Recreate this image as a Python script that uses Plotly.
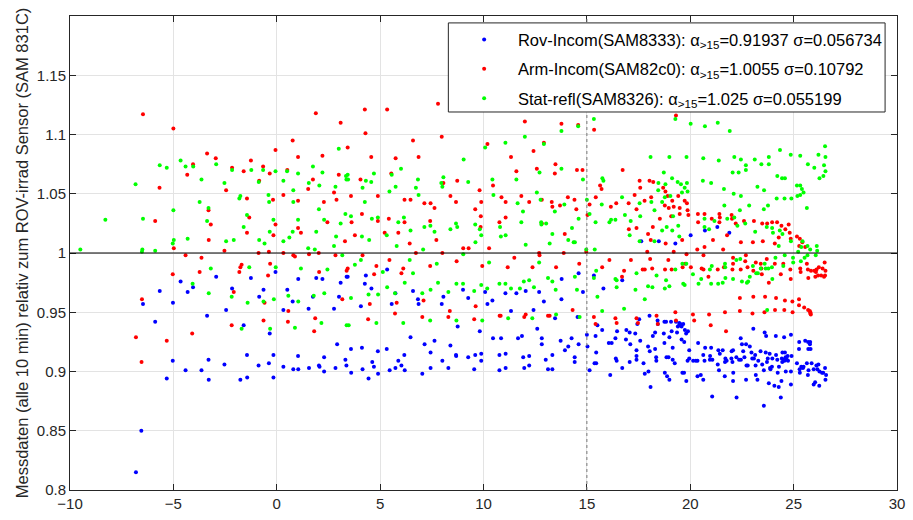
import plotly.graph_objects as go

# ---- data (x, ratio) ----
rov_pts = [
    (-6.81, 0.815), (-6.55, 0.850), (-6.47, 0.957), (-5.88, 0.942), (-5.66, 0.968), (-5.32, 0.894),
    (-5.03, 0.909), (-5.02, 0.958), (-4.65, 0.976), (-4.31, 0.967), (-4.05, 0.971), (-4.41, 0.901),
    (-3.64, 0.901), (-3.37, 0.947), (-3.30, 0.910), (-3.29, 0.893), (-2.93, 0.980), (-2.53, 0.906),
    (-2.45, 0.952), (-2.16, 0.970), (-1.76, 0.893), (-1.60, 0.939), (-1.44, 0.914), (-1.43, 0.895),
    (-1.25, 0.979), (-0.88, 0.905), (-0.85, 0.963), (-0.64, 0.969), (-0.38, 0.907), (-0.34, 0.932),
    (-0.16, 0.914), (-0.16, 0.895), (-0.06, 0.984), (0.32, 0.904), (0.32, 0.952), (0.51, 0.969),
    (0.77, 0.959), (0.80, 0.902), (1.03, 0.913), (1.04, 0.902), (1.04, 0.978), (1.54, 0.953),
    (1.56, 0.903), (1.75, 0.963), (1.91, 0.979), (2.04, 0.905), (2.07, 0.904), (2.21, 0.978),
    (2.29, 0.912), (2.29, 0.900), (2.77, 0.953), (2.84, 0.903), (2.92, 0.923), (3.01, 0.963),
    (3.09, 0.975), (3.32, 0.910), (3.37, 0.905), (3.38, 0.980),
    (3.43, 0.980), (3.59, 0.919), (3.60, 0.899), (4.07, 0.955), (4.12, 0.920), (4.15, 0.902),
    (4.26, 0.974), (4.31, 0.981), (4.58, 0.970), (4.62, 0.908), (4.70, 0.904), (4.44, 0.894),
    (4.89, 0.917), (4.90, 0.898), (5.34, 0.986), (5.32, 0.919), (5.46, 0.901), (5.56, 0.957),
    (5.74, 0.966), (5.74, 0.903), (5.88, 0.909), (6.03, 0.905), (6.17, 0.914), (6.19, 0.901),
    (6.47, 0.929), (6.59, 0.968), (6.83, 0.961), (6.86, 0.957), (7.04, 0.898), (7.15, 0.923),
    (7.44, 0.916), (7.44, 0.903), (7.63, 0.926), (7.98, 0.957), (8.01, 0.909), (8.06, 0.963),
    (8.30, 0.903), (8.40, 0.922), (8.67, 0.914), (8.68, 0.913), (8.75, 0.938), (9.01, 0.969),
    (9.26, 0.962), (9.26, 0.912), (9.55, 0.902), (9.60, 0.914), (9.82, 0.934), (9.89, 0.915),
    (9.89, 0.909), (10.08, 0.967), (10.19, 0.957), (10.43, 0.960), (10.46, 0.928), (10.77, 0.914),
    (10.77, 0.901), (10.85, 0.928), (11.06, 0.966), (11.07, 0.915), (11.07, 0.903), (11.33, 0.951),
    (11.59, 0.966), (11.67, 0.928), (11.86, 0.930), (11.92, 0.912), (11.97, 0.903), (12.04, 0.968),
    (12.21, 0.913), (12.21, 0.905), (12.42, 0.952), (12.60, 0.936), (12.69, 0.967), (12.82, 0.928),
    (12.82, 0.923), (12.92, 0.959), (13.01, 0.910), (13.12, 0.902), (13.33, 0.902), (13.33, 0.914),
    (13.46, 0.945), (13.73, 0.926), (13.77, 0.961), (13.78, 0.978), (13.94, 0.918), (14.10, 0.921),
    (14.26, 0.928), (14.41, 0.912), (14.41, 0.908), (14.60, 0.983), (14.55, 0.946), (14.60, 0.923),
    (14.81, 0.967), (15.00, 0.931), (15.03, 0.921), (15.13, 0.901), (15.34, 0.981), (15.37, 0.907),
    (15.45, 0.907), (15.42, 0.930), (15.45, 0.916), (15.51, 0.939), (15.74, 0.935), (15.80, 0.970),
    (16.06, 0.924), (16.20, 0.924), (16.13, 0.897), (16.38, 0.928), (16.40, 0.911), (16.44, 0.909),
    (16.46, 0.934), (16.71, 0.977), (16.71, 0.903), (16.89, 0.927),
    (16.91, 0.935), (17.07, 0.933), (17.10, 0.923), (17.07, 0.908), (17.40, 0.918), (17.40, 0.913),
    (17.40, 0.910), (17.34, 0.932), (17.53, 0.944), (17.44, 0.940), (17.58, 0.926), (17.74, 0.907),
    (17.80, 0.898), (17.98, 0.900), (17.96, 0.921), (18.03, 0.947), (18.04, 0.917), (18.08, 0.887),
    (18.19, 0.930), (18.30, 0.933), (18.30, 0.919), (18.42, 0.943), (18.43, 0.940), (18.35, 0.912),
    (18.36, 0.909), (18.75, 0.942), (18.83, 0.942), (18.72, 0.932), (18.75, 0.924), (18.77, 0.899),
    (18.85, 0.912), (18.95, 0.912), (18.88, 0.896), (18.99, 0.929), (18.99, 0.893), (19.07, 0.942),
    (19.10, 0.934), (19.15, 0.920), (19.15, 0.910), (19.25, 0.907), (19.31, 0.942), (19.36, 0.933),
    (19.40, 0.938), (19.47, 0.939), (19.58, 0.938), (19.66, 0.940), (19.52, 0.940), (19.47, 0.941),
    (19.58, 0.927), (19.62, 0.899), (19.70, 0.899), (19.71, 0.925), (19.74, 0.935), (19.80, 0.932),
    (19.89, 0.934), (19.87, 0.909), (19.81, 0.892), (19.95, 0.918), (19.95, 0.911), (20.14, 0.909),
    (20.27, 0.909), (20.35, 0.909), (20.38, 0.924), (20.35, 0.896), (20.51, 0.897), (20.63, 0.893),
    (20.63, 0.914), (20.69, 0.909), (20.72, 0.920), (20.95, 0.910), (20.96, 0.913), (21.01, 0.920),
    (21.07, 0.910), (21.06, 0.879), (21.36, 0.918), (21.57, 0.918), (21.33, 0.906), (21.39, 0.901),
    (21.43, 0.915), (21.67, 0.896), (21.70, 0.911), (21.68, 0.908), (21.76, 0.909), (22.00, 0.917),
    (22.07, 0.918), (21.99, 0.911), (22.04, 0.908), (22.08, 0.899), (22.07, 0.892), (22.24, 0.878),
    (22.23, 0.912), (22.36, 0.910), (22.45, 0.910), (22.44, 0.928), (22.50, 0.923), (22.56, 0.917),
    (22.62, 0.912), (22.70, 0.923), (22.72, 0.905), (22.78, 0.905), (22.70, 0.893), (22.88, 0.921),
    (23.05, 0.936), (23.00, 0.911), (23.08, 0.911), (22.96, 0.916), (23.14, 0.914), (23.17, 0.897),
    (23.25, 0.893), (23.16, 0.905), (23.29, 0.909), (23.40, 0.917), (23.48, 0.906), (23.56, 0.901),
    (23.56, 0.871), (23.60, 0.933), (23.65, 0.916), (23.67, 0.930), (23.71, 0.908), (23.75, 0.911),
    (23.80, 0.890), (23.84, 0.915), (23.88, 0.902), (23.95, 0.904), (23.86, 0.903), (23.97, 0.911),
    (24.07, 0.888), (24.14, 0.930), (24.15, 0.914), (24.21, 0.910), (24.23, 0.899), (24.29, 0.904),
    (24.28, 0.887), (24.38, 0.878), (24.41, 0.892), (24.43, 0.911), (24.52, 0.910), (24.45, 0.908),
    (24.56, 0.909), (24.61, 0.912), (24.67, 0.910), (24.71, 0.913), (24.73, 0.909), (24.58, 0.916),
    (24.46, 0.916), (24.54, 0.929), (24.62, 0.900), (24.87, 0.900), (24.87, 0.931), (24.87, 0.889),
    (24.90, 0.913), (25.16, 0.907), (25.26, 0.919), (25.27, 0.925), (25.29, 0.902), (25.30, 0.899),
    (25.37, 0.904), (25.45, 0.903), (25.48, 0.904), (25.56, 0.926), (25.64, 0.907), (25.70, 0.925),
    (25.80, 0.925), (25.71, 0.919), (25.82, 0.919), (25.69, 0.897), (25.72, 0.901), (25.79, 0.923),
    (25.87, 0.907), (25.97, 0.902), (25.97, 0.889), (26.04, 0.891), (26.10, 0.905), (26.20, 0.906),
    (26.15, 0.902), (26.24, 0.888), (26.25, 0.900), (26.37, 0.899), (26.43, 0.899), (26.52, 0.903),
    (26.54, 0.893), (26.57, 0.897),
    (17.63, 1.010), (18.48, 1.010), (19.28, 1.008), (20.02, 1.015), (20.71, 1.019), (21.31, 1.022),
    (21.89, 1.017),
]

arm_pts = [
    (-6.47, 1.117), (-5.00, 1.105), (1.89, 1.118), (3.09, 1.110), (0.77, 1.095), (-0.06, 1.087),
    (-3.37, 1.084), (-2.95, 1.080), (-4.05, 1.075), (-4.33, 1.066), (-2.16, 1.072), (-1.60, 1.069),
    (-1.25, 1.078), (-0.66, 1.073), (-0.34, 1.067), (0.51, 1.070), (1.03, 1.081), (2.21, 1.082),
    (1.75, 1.062), (3.00, 1.066), (-0.85, 1.061), (-2.45, 1.053), (-5.67, 1.055), (1.52, 1.054),
    (2.77, 1.051), (2.89, 1.045), (2.28, 1.043), (1.03, 1.044), (0.32, 1.049), (-0.18, 1.045),
    (-1.44, 1.046), (-3.30, 1.036), (-1.33, 1.030), (-3.19, 1.024), (-5.88, 1.027), (-0.06, 1.024),
    (-1.44, 1.017), (-0.16, 1.015), (1.03, 1.021), (1.17, 1.017), (2.45, 1.026), (3.30, 1.010),
    (-3.29, 1.011), (-4.98, 1.004), (-2.53, 1.002), (-0.88, 1.000), (-0.38, 1.001), (0.32, 1.000),
    (2.03, 1.000),
    (4.26, 1.121), (5.34, 1.121), (4.29, 1.101), (7.80, 1.126), (7.98, 1.098), (6.59, 1.095),
    (3.43, 1.089), (4.57, 1.081), (5.75, 1.080), (6.86, 1.081), (5.54, 1.067), (4.05, 1.062),
    (3.59, 1.048), (4.89, 1.048), (4.12, 1.033), (3.62, 1.026), (3.78, 1.015), (5.22, 1.017),
    (5.42, 1.029), (4.89, 1.027), (5.88, 1.017), (6.18, 1.045), (6.47, 1.045), (6.18, 1.026),
    (7.14, 1.042), (7.44, 1.042), (7.63, 1.038), (7.42, 1.027), (6.43, 1.008), (7.72, 1.011),
    (8.06, 1.059), (8.73, 1.061), (8.40, 1.048), (8.67, 1.043), (9.60, 1.037), (9.81, 1.053),
    (9.89, 1.043), (9.87, 1.031), (9.86, 1.022), (10.19, 1.092), (11.33, 1.081), (11.59, 1.069),
    (12.00, 1.111), (12.42, 1.086), (12.58, 1.071), (12.92, 1.093), (13.48, 1.075), (13.45, 1.067),
    (13.77, 1.109), (14.58, 1.108), (14.52, 1.070), (14.79, 1.070), (15.35, 1.104), (10.46, 1.057),
    (10.87, 1.047), (11.07, 1.043), (11.83, 1.048), (12.21, 1.043), (12.82, 1.045), (13.30, 1.043),
    (13.33, 1.039), (13.70, 1.040), (14.08, 1.047), (14.40, 1.045), (14.49, 1.037), (15.13, 1.041),
    (15.43, 1.047), (15.71, 1.054), (16.16, 1.039), (16.42, 1.042), (16.73, 1.070), (10.77, 1.026),
    (11.07, 1.030), (12.82, 1.025), (13.93, 1.016), (15.03, 1.032), (15.64, 1.057), (6.73, 1.000),
    (8.01, 1.000), (9.02, 1.004), (9.28, 1.004), (10.27, 1.004), (12.69, 1.000), (13.88, 1.000),
    (14.97, 1.001),
    (17.55, 1.061), (18.03, 1.061), (18.21, 1.060), (17.58, 1.055), (17.31, 1.049), (17.02, 1.042),
    (17.40, 1.037), (17.79, 1.044), (18.11, 1.047), (18.69, 1.055), (18.80, 1.052), (18.91, 1.048),
    (19.13, 1.044), (19.42, 1.048), (19.73, 1.044), (19.84, 1.042), (19.87, 1.036), (19.49, 1.038),
    (19.20, 1.039), (18.77, 1.040), (18.96, 1.038), (19.91, 1.032), (19.49, 1.033), (19.08, 1.031),
    (18.53, 1.029), (18.19, 1.022), (17.96, 1.016), (18.09, 1.011), (17.40, 1.021), (17.03, 1.020),
    (18.81, 1.008), (19.61, 1.011), (20.37, 1.033), (20.69, 1.033), (20.38, 1.026), (21.04, 1.029),
    (21.41, 1.033), (21.43, 1.030), (21.41, 1.026), (22.00, 1.032), (22.02, 1.029), (22.20, 1.025),
    (22.60, 1.027), (23.08, 1.027), (23.48, 1.025), (23.72, 1.025), (23.96, 1.026), (24.20, 1.026),
    (24.41, 1.023), (24.76, 1.024), (24.60, 1.020), (24.81, 1.017), (24.28, 1.013), (24.86, 1.012),
    (25.16, 1.014), (25.30, 1.012), (25.42, 1.009), (25.27, 1.006), (25.56, 1.005), (24.09, 1.008),
    (23.51, 1.010), (23.03, 1.009), (22.45, 1.009), (21.78, 1.015), (21.10, 1.011), (20.69, 1.005),
    (20.34, 1.003), (21.59, 1.003), (19.31, 1.116), (17.92, 1.001), (19.20, 1.001),
    (-6.52, 0.961), (-6.81, 0.929), (-6.54, 0.908), (-5.32, 0.926), (-5.03, 0.982), (-4.09, 0.932),
    (-4.41, 0.998), (-3.64, 0.996), (-3.73, 0.984), (-2.18, 0.939), (-2.08, 0.967), (-1.81, 0.984),
    (-1.76, 0.988), (-1.70, 0.990), (-0.64, 0.943), (-0.59, 0.958), (-0.42, 0.981), (-0.32, 0.991),
    (0.56, 0.951), (0.54, 0.942), (0.80, 0.998), (0.88, 0.997), (1.56, 0.999), (1.81, 0.934),
    (1.86, 0.945), (2.05, 0.984), (2.84, 0.998), (3.17, 0.961), (3.38, 0.985),
    (4.15, 0.998), (3.43, 0.987), (4.82, 0.989), (4.71, 0.982), (4.50, 0.957), (4.42, 0.944),
    (5.45, 0.994), (6.12, 0.987), (6.03, 0.983), (5.80, 0.958), (5.72, 0.949), (7.10, 0.960),
    (7.04, 0.946), (7.42, 0.989), (8.70, 0.993), (8.37, 0.951), (8.30, 0.946), (9.62, 0.955),
    (9.55, 0.944), (9.94, 0.989), (11.17, 0.988), (11.49, 0.996), (10.78, 0.947), (10.83, 0.947),
    (12.04, 0.948), (11.97, 0.946), (12.37, 0.988), (12.71, 0.998), (13.12, 0.947), (13.20, 0.947),
    (13.51, 0.988), (14.31, 0.952), (14.63, 0.991), (15.34, 0.946), (15.42, 0.940), (15.74, 0.988),
    (16.09, 0.994), (16.38, 0.945), (16.44, 0.941), (16.70, 0.980), (16.80, 0.985),
    (17.13, 0.994), (18.06, 0.995), (18.94, 0.994), (19.82, 0.999), (20.64, 0.998), (17.70, 0.986),
    (17.80, 0.986), (18.16, 0.987), (18.78, 0.986), (19.10, 0.986), (19.63, 0.988), (19.76, 0.991),
    (20.03, 0.988), (20.55, 0.987), (20.64, 0.986), (20.88, 0.980), (21.33, 0.986), (21.63, 0.988),
    (22.04, 0.986), (22.07, 0.996), (22.07, 0.991), (22.44, 0.986), (22.69, 0.998), (22.66, 0.993),
    (22.77, 0.988), (23.05, 0.985), (23.17, 0.992), (23.41, 0.991), (23.44, 0.987), (23.70, 0.995),
    (23.46, 0.982), (23.80, 0.975), (24.09, 0.991), (24.38, 0.982), (24.50, 0.991), (24.84, 0.986),
    (24.86, 0.978), (25.32, 0.987), (25.34, 0.984), (25.64, 0.991), (25.69, 0.986), (25.71, 0.979),
    (25.84, 0.985), (26.00, 0.985), (26.08, 0.984), (26.11, 0.986), (26.22, 0.988), (26.18, 0.981),
    (26.05, 0.980), (26.40, 0.987), (26.50, 0.992), (26.54, 0.985), (26.52, 0.981), (26.47, 0.980),
    (26.33, 0.981),
    (22.40, 0.962), (23.05, 0.963), (23.62, 0.963), (24.15, 0.962), (24.58, 0.960), (24.94, 0.959),
    (25.26, 0.961), (25.26, 0.956), (25.51, 0.954), (25.70, 0.952), (25.78, 0.951), (25.81, 0.950),
    (25.81, 0.949), (25.83, 0.948), (21.68, 0.950), (22.40, 0.951), (23.01, 0.949), (23.59, 0.950),
    (24.10, 0.952), (24.55, 0.952), (24.95, 0.950), (19.28, 0.950), (20.13, 0.948), (20.91, 0.948),
    (18.37, 0.947), (17.40, 0.945), (17.47, 0.941), (18.43, 0.940), (19.31, 0.943), (20.19, 0.943),
    (20.99, 0.939), (21.73, 0.934),
]

stat_pts = [
    (-9.50, 1.003), (-8.29, 1.028), (-6.83, 1.058), (-6.47, 1.029), (-6.50, 1.003), (-6.52, 1.001),
    (-5.88, 1.002), (-5.66, 1.074), (-5.32, 1.072), (-4.65, 1.078), (-4.41, 1.073), (-4.04, 1.073),
    (-3.64, 1.062), (-2.93, 1.075), (-5.00, 1.036), (-4.98, 1.011), (-5.03, 1.008), (-4.31, 1.012),
    (-3.73, 1.043), (-3.30, 1.038), (-3.37, 1.027), (-2.53, 1.059), (-2.16, 1.070), (-1.76, 1.048),
    (-1.81, 1.046), (-1.23, 1.070), (-0.87, 1.060), (-0.66, 1.070), (-0.40, 1.049), (-0.37, 1.043),
    (-0.06, 1.069), (0.32, 1.061), (0.50, 1.069), (0.80, 1.053), (0.80, 1.043), (1.03, 1.067),
    (1.75, 1.073), (2.21, 1.068), (1.55, 1.059), (2.06, 1.057), (2.04, 1.037), (2.84, 1.056),
    (3.00, 1.088), (3.35, 1.065), (3.37, 1.062), (3.32, 1.033), (3.09, 1.025), (2.29, 1.028),
    (1.91, 1.018), (1.03, 1.028), (0.77, 1.018), (0.61, 1.013), (0.32, 1.010), (-0.34, 1.018),
    (-0.16, 1.028), (-0.59, 1.008), (-0.85, 1.011), (-1.60, 1.022), (-1.44, 1.032), (-2.08, 1.011),
    (-2.45, 1.010), (1.52, 1.004), (1.84, 1.003), (2.77, 1.006), (2.87, 1.014),
    (3.43, 1.066), (3.45, 1.062), (4.70, 1.067), (4.31, 1.061), (4.15, 1.055), (4.57, 1.060),
    (4.26, 1.043), (3.59, 1.031), (4.60, 1.029), (4.89, 1.030), (4.12, 1.014), (4.47, 1.011),
    (5.32, 1.015), (5.80, 1.006), (5.88, 1.026), (6.15, 1.030), (6.47, 1.019), (5.45, 1.052),
    (5.56, 1.066), (5.75, 1.056), (6.01, 1.071), (6.73, 1.055), (6.83, 1.062), (6.86, 1.049),
    (7.14, 1.022), (7.43, 1.023), (7.63, 1.018), (7.08, 1.003), (7.96, 1.059), (8.06, 1.064),
    (8.01, 1.056), (8.40, 1.020), (8.67, 1.025), (8.73, 1.022), (9.04, 1.079), (9.26, 1.060),
    (9.60, 1.024), (9.61, 1.009), (9.82, 1.020), (9.89, 1.015), (10.08, 1.089), (10.43, 1.062),
    (10.48, 1.049), (11.06, 1.093), (11.59, 1.062), (12.00, 1.098), (11.65, 1.042), (11.91, 1.035),
    (11.83, 1.026), (10.80, 1.022), (10.84, 1.014), (11.07, 1.015), (12.04, 1.007), (12.58, 1.051),
    (12.71, 1.068), (12.92, 1.092), (12.79, 1.026), (12.80, 1.024), (13.03, 1.025), (12.76, 1.045),
    (13.20, 1.008), (13.33, 1.016), (13.45, 1.035), (13.77, 1.103), (13.77, 1.071), (13.91, 1.041),
    (14.10, 1.011), (14.28, 1.021), (14.36, 1.009), (14.42, 1.009), (14.58, 1.107), (14.81, 1.062),
    (14.60, 1.029), (15.00, 1.045), (15.34, 1.113), (15.13, 1.033), (15.42, 1.026), (15.75, 1.063),
    (15.80, 1.061), (15.72, 1.041), (16.09, 1.026), (16.17, 1.028), (16.38, 1.028), (16.70, 1.047),
    (16.84, 1.032), (14.97, 1.003), (15.38, 1.003),
    (19.28, 1.113), (20.02, 1.109), (20.71, 1.107), (21.33, 1.110), (21.91, 1.103), (18.08, 1.081),
    (18.99, 1.081), (19.82, 1.081), (20.63, 1.080), (21.38, 1.078), (22.13, 1.081), (22.45, 1.079),
    (22.69, 1.074), (22.69, 1.070), (23.12, 1.079), (23.44, 1.075), (23.80, 1.081), (23.80, 1.075),
    (24.34, 1.087), (24.86, 1.083), (25.32, 1.082), (25.69, 1.075), (26.00, 1.072), (26.20, 1.083),
    (26.52, 1.090), (26.54, 1.081), (26.47, 1.074), (26.54, 1.069), (26.44, 1.065), (26.25, 1.063),
    (22.05, 1.068), (22.34, 1.068), (24.21, 1.065), (24.44, 1.063), (24.58, 1.063), (25.16, 1.057),
    (25.32, 1.057), (25.40, 1.054), (25.48, 1.051), (25.32, 1.049), (25.18, 1.048), (24.89, 1.046),
    (24.56, 1.046), (25.64, 1.038), (20.61, 1.061), (21.01, 1.059), (21.63, 1.054), (22.10, 1.050),
    (22.45, 1.048), (23.25, 1.056), (23.57, 1.053), (24.18, 1.046), (23.76, 1.040), (23.56, 1.037),
    (22.85, 1.040), (22.40, 1.036), (21.65, 1.040), (18.46, 1.059), (18.72, 1.068), (18.80, 1.058),
    (19.12, 1.063), (19.39, 1.060), (19.55, 1.058), (19.84, 1.059), (19.73, 1.055), (19.87, 1.052),
    (19.60, 1.051), (18.77, 1.047), (18.64, 1.043), (19.04, 1.048), (18.45, 1.053), (18.12, 1.043),
    (17.55, 1.042), (17.58, 1.031), (17.12, 1.027), (18.27, 1.036), (19.17, 1.031), (18.86, 1.022),
    (19.13, 1.019), (19.42, 1.023), (18.64, 1.019), (19.47, 1.014), (17.07, 1.015), (17.55, 1.010),
    (18.27, 1.010), (20.69, 1.029), (21.17, 1.027), (20.69, 1.022), (21.79, 1.029), (22.13, 1.030),
    (22.28, 1.023), (22.66, 1.025), (23.14, 1.018), (23.70, 1.022), (23.96, 1.021), (24.33, 1.019),
    (24.46, 1.016), (24.00, 1.017), (24.28, 1.006), (24.87, 1.010), (25.43, 1.010), (25.67, 1.006),
    (25.80, 1.003), (26.12, 1.006), (26.14, 1.002), (25.37, 1.005), (25.22, 1.001), (20.91, 1.020),
    (-4.07, 0.974), (-3.29, 0.966), (-3.19, 0.987), (-2.18, 0.963), (-1.70, 0.936), (-1.33, 0.988),
    (-1.41, 0.958), (-0.64, 0.959), (-0.32, 0.936), (-0.14, 0.961), (-0.05, 0.988), (0.56, 0.964),
    (0.88, 0.937), (1.04, 0.959), (1.17, 0.987), (1.79, 0.964), (2.16, 0.941), (2.30, 0.966),
    (2.45, 0.986), (3.17, 0.998), (3.38, 0.939),
    (3.59, 0.962), (3.78, 0.990), (4.07, 0.994), (3.48, 0.939), (4.44, 0.965), (4.90, 0.965),
    (4.82, 0.941), (5.13, 0.984), (5.34, 0.971), (5.72, 0.966), (6.12, 0.941), (6.19, 0.975),
    (6.43, 0.994), (6.59, 0.983), (7.04, 0.966), (7.42, 0.943), (7.44, 0.969), (7.74, 0.991),
    (7.80, 0.975), (8.30, 0.967), (8.69, 0.974), (8.69, 0.943), (9.01, 0.974), (9.02, 0.999),
    (9.55, 0.968), (9.89, 0.973), (9.94, 0.943), (10.18, 0.970), (10.27, 0.992), (10.77, 0.974),
    (11.06, 0.974), (11.19, 0.945), (11.33, 0.970), (11.76, 0.970), (11.95, 0.976), (12.21, 0.977),
    (12.44, 0.971), (12.36, 0.945), (12.69, 0.992), (13.12, 0.979), (13.33, 0.976), (13.49, 0.969),
    (13.51, 0.948), (14.42, 0.980), (14.52, 0.969), (14.65, 0.946), (15.34, 0.979), (15.45, 0.985),
    (15.51, 0.963), (15.74, 0.951), (16.38, 0.978), (16.44, 0.977), (16.44, 0.971), (16.80, 0.953),
    (17.40, 0.983), (17.35, 0.969), (17.80, 0.961), (17.96, 0.972), (18.17, 0.971), (18.37, 0.981),
    (18.77, 0.970), (18.83, 0.977), (18.99, 0.972), (19.28, 0.986), (19.62, 0.991), (19.81, 0.991),
    (19.66, 0.974), (19.73, 0.973), (20.13, 0.982), (20.40, 0.974), (20.53, 0.978), (20.95, 0.986),
    (21.04, 0.989), (21.01, 0.974), (21.35, 0.974), (21.57, 0.975), (21.68, 0.991), (21.69, 0.988),
    (21.70, 0.979), (22.07, 0.978), (22.23, 0.994), (22.42, 0.995), (22.50, 0.976), (22.74, 0.975),
    (22.80, 0.976), (22.88, 0.980), (23.03, 0.989), (23.19, 0.983), (23.27, 0.983), (23.41, 0.987),
    (23.60, 0.991), (23.65, 0.987), (23.78, 0.987), (23.95, 0.988), (23.97, 0.978), (24.12, 0.996),
    (24.50, 0.989), (24.57, 0.998), (24.97, 0.996), (24.98, 0.992), (25.35, 0.993), (25.53, 0.996),
    (25.67, 0.998), (26.07, 0.998), (23.72, 0.952),
]

series_names = [
    "Rov-Incom(SAM8333): α<sub>&gt;15</sub>=0.91937 σ=0.056734",
    "Arm-Incom(SAM82c0): α<sub>&gt;15</sub>=1.0055 σ=0.10792",
    "Stat-refl(SAM8326): α<sub>&gt;15</sub>=1.025 σ=0.055199",
]
series_colors = ["#0000ff", "#ff0000", "#00ff00"]

x_ticks = [-10, -5, 0, 5, 10, 15, 20, 25, 30]
y_ticks = [0.8, 0.85, 0.9, 0.95, 1.0, 1.05, 1.1, 1.15]
y_ticklabels = ["0.8", "0.85", "0.9", "0.95", "1", "1.05", "1.1", "1.15"]

fig = go.Figure()
for i, (pts, name, col) in enumerate(zip([rov_pts, arm_pts, stat_pts], series_names, series_colors)):
    xs = [p[0] for p in pts]
    ys = [p[1] for p in pts]
    fig.add_trace(go.Scatter(x=xs, y=ys, mode="markers", name="\u00a0\u00a0\u00a0" + name,
                             legendgroup=f"g{i}",
                             marker=dict(color=col, size=4, line=dict(width=0))))

fig.add_hline(y=1.0, line=dict(color="black", width=1))
fig.add_vline(x=15, line=dict(color="#777777", width=1, dash="dot"))

# legend frame (white box with dark border)
fig.add_shape(type="rect", xref="paper", yref="paper", x0=0.4575, x1=0.9856, y0=0.7975, y1=0.9854,
              fillcolor="white", line=dict(color="#262626", width=1), layer="above")

font_family = "Liberation Sans, Arial, sans-serif"
axis_common = dict(showline=True, linecolor="#262626", linewidth=1, mirror="ticks",
                   ticks="inside", ticklen=6, tickcolor="#262626", showgrid=True,
                   gridcolor="#e3e3e3", gridwidth=1, zeroline=False,
                   tickfont=dict(family=font_family, size=15, color="#262626"))

fig.update_layout(
    width=913, height=520,
    margin=dict(l=70, r=8, t=16, b=25),
    paper_bgcolor="white", plot_bgcolor="white",
    font=dict(family=font_family, size=15, color="#262626"),
    showlegend=True,
    legend=dict(x=0.4766, y=0.987, xanchor="left", yanchor="top",
                bgcolor="rgba(0,0,0,0)", borderwidth=0,
                font=dict(family=font_family, size=16.5, color="black"),
                itemsizing="trace", tracegroupgap=5),
    xaxis=dict(range=[-10, 30], tickvals=x_ticks, **axis_common),
    yaxis=dict(range=[0.8, 1.2], tickvals=y_ticks, ticktext=y_ticklabels,
               title=dict(text="Messdaten (alle 10 min) relativ zum ROV-irrad Sensor (SAM 831C)",
                          font=dict(family=font_family, size=16.5, color="#262626"), standoff=4),
               **axis_common),
)

fig.write_html("out.html")
